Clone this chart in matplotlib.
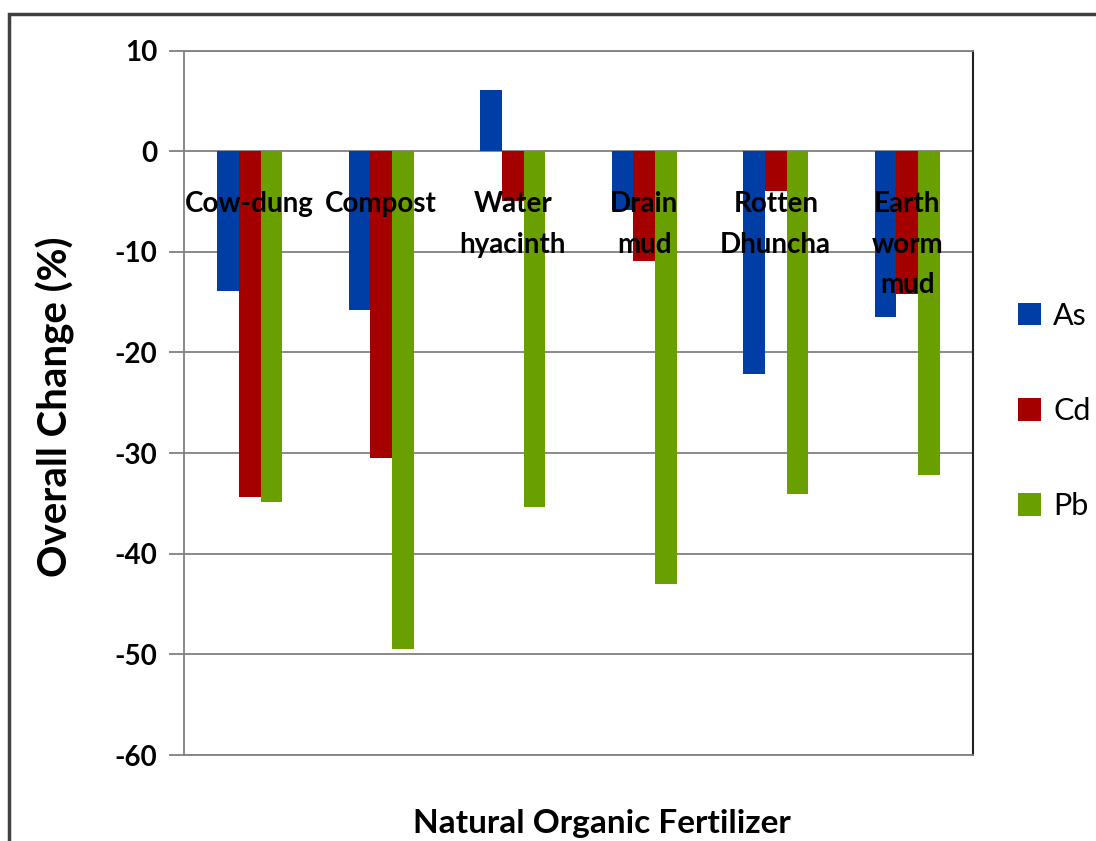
import matplotlib
matplotlib.use("Agg")
import matplotlib.pyplot as plt
import numpy as np
from matplotlib.patches import Rectangle

categories = ["Cow-dung", "Compost", "Water\nhyacinth", "Drain\nmud", "Rotten\nDhuncha", "Earth\nworm\nmud"]
series_names = ["As", "Cd", "Pb"]
as_vals = [-13.9, -15.8, 6.1, -5.8, -22.1, -16.5]
cd_vals = [-34.4, -30.5, -5.0, -10.9, -4.0, -14.2]
pb_vals = [-34.9, -49.5, -35.4, -43.0, -34.1, -32.2]
colors = ["#003DA5", "#A50000", "#6A9F00"]
yticks = [10, 0, -10, -20, -30, -40, -50, -60]

plt.rcParams['font.family'] = ['Lato', 'DejaVu Sans']

fig = plt.figure(figsize=(10.96, 8.41), dpi=100)
ax = fig.add_axes([184/1096, 1-755/841, (973-184)/1096, (755-50.5)/841])

x = np.arange(len(categories))
w = 0.164
for i, (vals, c, n) in enumerate(zip([as_vals, cd_vals, pb_vals], colors, series_names)):
    ax.bar(x + (i-1)*w, vals, w, color=c, label=n, zorder=2)

ax.set_ylim(-60, 10)
ax.set_xlim(-0.5, len(categories)-0.5)
ax.set_yticks(yticks)
ax.set_yticklabels([str(t) for t in yticks], fontsize=20, fontweight='bold')
ax.yaxis.grid(True, color='#808080', linewidth=1.3, zorder=0)
ax.set_axisbelow(True)
ax.tick_params(axis='y', length=11, width=1.3, color='#808080', pad=8)
ax.tick_params(axis='x', length=0, labelbottom=False)
for s in ['left', 'bottom', 'top']:
    ax.spines[s].set_color('#808080')
    ax.spines[s].set_linewidth(1.3)
ax.spines['right'].set_color('#202020')
ax.spines['right'].set_linewidth(1.5)

for xi, lab in zip(x, categories):
    ax.annotate(lab, xy=(xi, 0), xytext=(0, -29), textcoords='offset points',
                ha='center', va='top', fontsize=20, fontweight='bold',
                linespacing=1.68, zorder=5)

fig.text(55/1096, 1-407/841, "Overall Change (%)", fontsize=29, fontweight='bold',
         rotation=90, ha='center', va='center')
fig.text(602/1096, 1-823/841, "Natural Organic Fertilizer", fontsize=24,
         fontweight='bold', ha='center', va='center')

leg = fig.legend(loc='center left', bbox_to_anchor=(1018/1096, 1-411/841), frameon=False,
                 fontsize=22, handlelength=0.75, handleheight=0.75, labelspacing=2.2,
                 handletextpad=0.4, borderpad=0, borderaxespad=0)

fig.patches.append(Rectangle((9/1096, -0.1), 1.2, 1-14/841+0.1, transform=fig.transFigure,
                             fill=False, edgecolor='#404040', linewidth=2.5, figure=fig))

fig.savefig("out.png", dpi=100)
